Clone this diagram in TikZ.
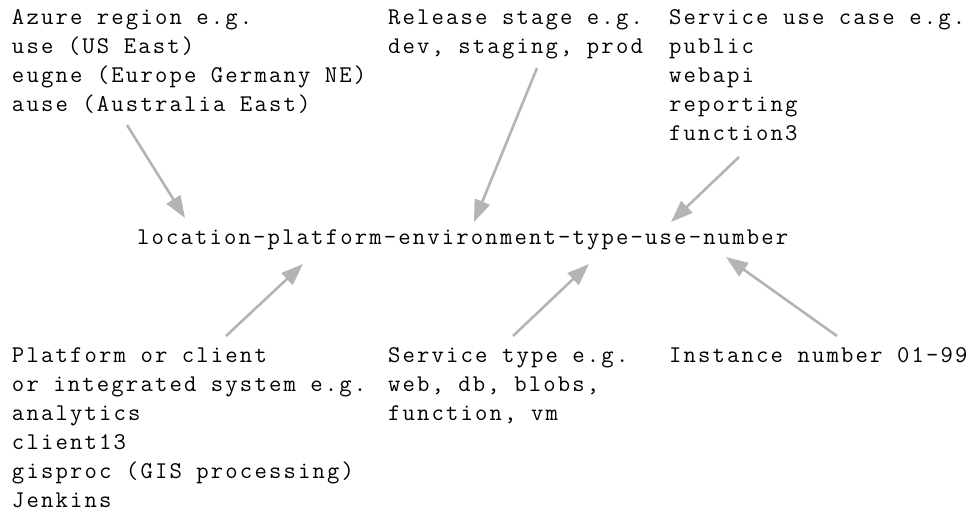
\documentclass[tikz,border=0pt]{standalone}
\usepackage{fontspec}
\newfontfamily\labelmono{Latin Modern Mono}[LetterSpace=9.0]
\usetikzlibrary{arrows.meta}
\definecolor{arrowgray}{RGB}{180,180,180}
\tikzset{
  label block/.style={anchor=base west, inner sep=0pt, outer sep=0pt,
    font=\labelmono\fontsize{24}{29}\selectfont},
  pointer/.style={draw=arrowgray, line width=2.6pt,
    -{Triangle[length=22pt, width=16pt]}},
}
\newcommand{\blocklines}[1]{\begin{tabular}[t]{@{}l@{}}#1\end{tabular}}
\begin{document}
\begin{tikzpicture}[x=1pt, y=-1pt]
  \useasboundingbox (0,0) rectangle (974,513);

  % naming pattern in the middle
  \node[label block] (pattern) at (137,244) {location-platform-environment-type-use-number};

  % descriptions above
  \node[label block] (region) at (12,25)
    {\blocklines{Azure region e.g.\\use (US East)\\eugne (Europe Germany NE)\\ause (Australia East)}};
  \node[label block] (stage) at (388,25)
    {\blocklines{Release stage e.g.\\dev, staging, prod}};
  \node[label block] (usecase) at (669,25)
    {\blocklines{Service use case e.g.\\public\\webapi\\reporting\\function3}};

  % descriptions below
  \node[label block] (platform) at (12,362)
    {\blocklines{Platform or client\\or integrated system e.g.\\analytics\\client13\\gisproc (GIS processing)\\Jenkins}};
  \node[label block] (svctype) at (388,362)
    {\blocklines{Service type e.g.\\web, db, blobs,\\function, vm}};
  \node[label block] (instance) at (669,362)
    {\blocklines{Instance number 01-99}};

  % arrow ends
  \coordinate (region-out) at (127,125);
  \coordinate (region-in) at (185,218);
  \coordinate (stage-out) at (537,68);
  \coordinate (stage-in) at (474,222);
  \coordinate (usecase-out) at (739,157);
  \coordinate (usecase-in) at (671,222);
  \coordinate (platform-out) at (226,336);
  \coordinate (platform-in) at (303,264);
  \coordinate (svctype-out) at (513,336);
  \coordinate (svctype-in) at (589,264);
  \coordinate (instance-out) at (837,336);
  \coordinate (instance-in) at (726,257);

  \draw[pointer] (region-out) -- (region-in);
  \draw[pointer] (stage-out) -- (stage-in);
  \draw[pointer] (usecase-out) -- (usecase-in);
  \draw[pointer] (platform-out) -- (platform-in);
  \draw[pointer] (svctype-out) -- (svctype-in);
  \draw[pointer] (instance-out) -- (instance-in);
\end{tikzpicture}
\end{document}
